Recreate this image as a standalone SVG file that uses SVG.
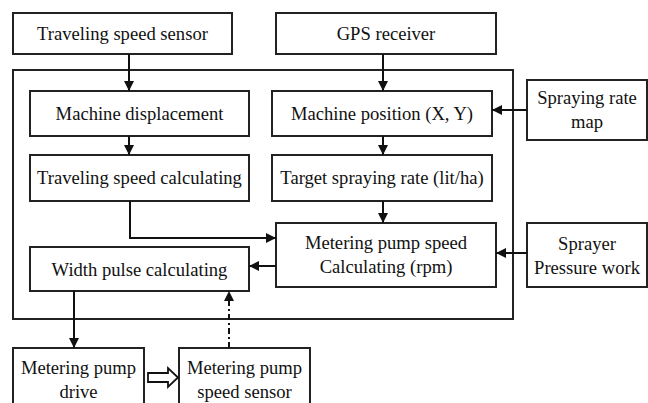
<svg xmlns="http://www.w3.org/2000/svg" width="648" height="403" viewBox="0 0 648 403">
<defs>
<style>
.b{fill:#fff;stroke:#222;stroke-width:2}
.o{fill:none;stroke:#222;stroke-width:2}
.c{fill:none;stroke:#111;stroke-width:2}
.t{font-family:'Liberation Serif','Times New Roman',serif;font-size:18.6px;fill:#111;text-anchor:middle}
</style>
<marker id="ah" viewBox="0 0 10 10" refX="10" refY="5" markerWidth="5" markerHeight="5" markerUnits="strokeWidth" orient="auto">
<path d="M0,0 L10,5 L0,10 Z" fill="#111"/>
</marker>
</defs>
<rect width="648" height="403" fill="#fff"/>
<rect id="outer" class="o" x="13" y="70" width="500" height="249"/>
<g id="n-tss"><rect class="b" x="13" y="13" width="219" height="41"/><text class="t" x="122.5" y="40">Traveling speed sensor</text></g>
<g id="n-gps"><rect class="b" x="276" y="13" width="220" height="41"/><text class="t" x="386" y="40">GPS receiver</text></g>
<g id="n-md"><rect class="b" x="30" y="91" width="219" height="45"/><text class="t" x="139.5" y="120">Machine displacement</text></g>
<g id="n-mp"><rect class="b" x="272" y="91" width="220" height="45"/><text class="t" x="382" y="120">Machine position (X, Y)</text></g>
<g id="n-tsc"><rect class="b" x="30" y="155" width="219" height="46"/><text class="t" x="139.5" y="184">Traveling speed calculating</text></g>
<g id="n-tsr"><rect class="b" x="272" y="155" width="220" height="46"/><text class="t" x="382" y="184">Target spraying rate (lit/ha)</text></g>
<g id="n-mps"><rect class="b" x="276" y="223" width="220" height="64"/><text class="t" x="386" y="248.5">Metering pump speed</text><text class="t" x="386" y="272.5">Calculating (rpm)</text></g>
<g id="n-srm"><rect class="b" x="527" y="80" width="120" height="60"/><text class="t" x="587" y="103.5">Spraying rate</text><text class="t" x="587" y="127.5">map</text></g>
<g id="n-spw"><rect class="b" x="527" y="223" width="120" height="64"/><text class="t" x="587" y="249.5">Sprayer</text><text class="t" x="587" y="273.5">Pressure work</text></g>
<g id="n-wpc"><rect class="b" x="30" y="247" width="219" height="44"/><text class="t" x="139.5" y="275.5">Width pulse calculating</text></g>
<g id="n-mpd"><rect class="b" x="13" y="348" width="131" height="62"/><text class="t" x="78.5" y="373.5">Metering pump</text><text class="t" x="78.5" y="397.5">drive</text></g>
<g id="n-mpss"><rect class="b" x="179" y="348" width="131" height="62"/><text class="t" x="244.5" y="373.5">Metering pump</text><text class="t" x="244.5" y="397.5">speed sensor</text></g>
<g id="connectors">
<line class="c" x1="129" y1="54" x2="129" y2="91" marker-end="url(#ah)"/>
<line class="c" x1="383" y1="54" x2="383" y2="91" marker-end="url(#ah)"/>
<line class="c" x1="129" y1="136" x2="129" y2="155" marker-end="url(#ah)"/>
<line class="c" x1="383" y1="136" x2="383" y2="155" marker-end="url(#ah)"/>
<line class="c" x1="383" y1="201" x2="383" y2="223" marker-end="url(#ah)"/>
<polyline class="c" points="130,201 130,238 276,238" marker-end="url(#ah)"/>
<line class="c" x1="527" y1="110" x2="492" y2="110" marker-end="url(#ah)"/>
<line class="c" x1="527" y1="253" x2="496" y2="253" marker-end="url(#ah)"/>
<line class="c" x1="276" y1="266" x2="249" y2="266" marker-end="url(#ah)"/>
<line class="c" x1="74" y1="291" x2="74" y2="348" marker-end="url(#ah)"/>
<line class="c" x1="229" y1="348" x2="229" y2="291" stroke-dasharray="6,3,2,3" marker-end="url(#ah)"/>
<path d="M148,373 L168,373 L168,368 L178,377.5 L168,387 L168,382 L148,382 Z" fill="#fff" stroke="#111" stroke-width="1.8" stroke-linejoin="miter"/>
</g>
</svg>
